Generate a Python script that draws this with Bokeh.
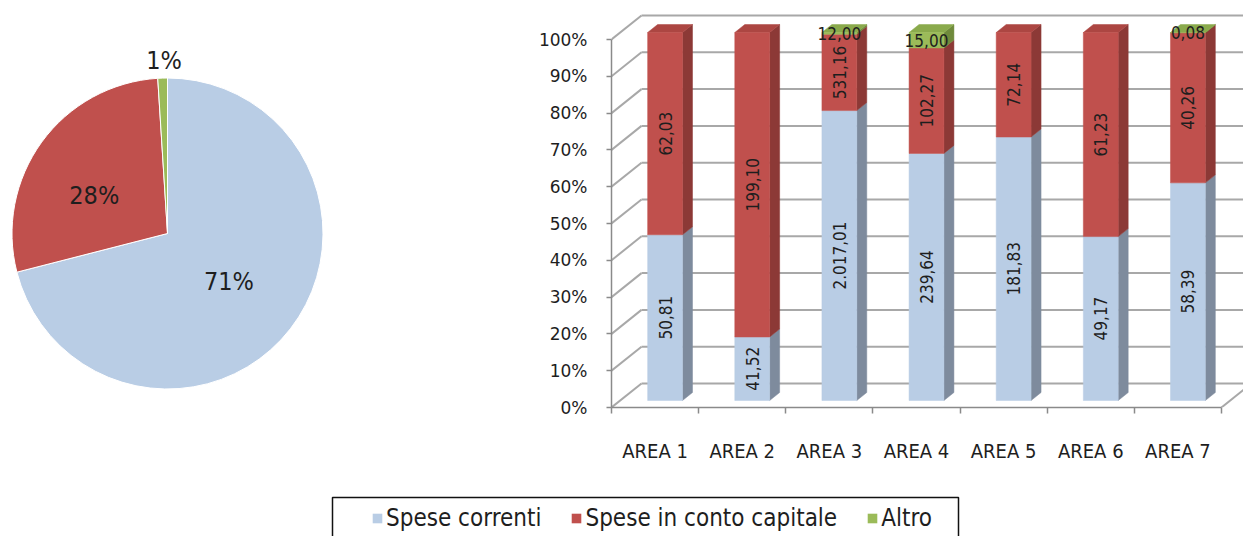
import numpy as np
from bokeh.plotting import figure
from bokeh.layouts import column, row
from bokeh.models import (ColumnDataSource, Range1d, FixedTicker, PrintfTickFormatter,
                          CustomJSTickFormatter, Legend, LegendItem, BoxAnnotation)
from bokeh.core.properties import value
from bokeh.embed import file_html
from bokeh.resources import INLINE

# ---------------- data ----------------
areas = ["AREA 1", "AREA 2", "AREA 3", "AREA 4", "AREA 5", "AREA 6", "AREA 7"]
spese_correnti = [50.81, 41.52, 2017.01, 239.64, 181.83, 49.17, 58.39]
spese_capitale = [62.03, 199.10, 531.16, 102.27, 72.14, 61.23, 40.26]
altro = [0.0, 0.0, 12.00, 15.00, 0.0, 0.0, 0.08]
series_names = ["Spese correnti", "Spese in conto capitale", "Altro"]
pie_shares = [71, 28, 1]
y_ticks = [0, 10, 20, 30, 40, 50, 60, 70, 80, 90, 100]

# ---------------- style ----------------
FONT = "DejaVu Sans Condensed"
FACE = ["#B9CDE5", "#C0504D", "#9BBB59"]
SIDE = ["#7E8B9D", "#8C3936", "#6F8A3B"]
TOP = ["#A9BDD6", "#AC4642", "#8AAA4C"]
GRID = "#A8A8A8"
AXIS = "#8A8A8A"
TEXT = "#1E1E1E"

# shared vertical frame of the top row (pixels)
TOP_BORDER, BOTTOM_BORDER, ROW_H = 10, 63, 470
FRAME_H = ROW_H - TOP_BORDER - BOTTOM_BORDER

# 3D projection of the column chart (in data units)
CAT_PX = 87.14            # pixels per category
PCT_PX = 3.68             # pixels per percent point
WALL_DX, WALL_DY = 30 / CAT_PX, 24 / PCT_PX     # back wall offset
BAR_OX, BAR_OY = 10 / CAT_PX, 7 / PCT_PX        # bar front offset from the front plane
BAR_DX, BAR_DY = 10 / CAT_PX, 8 / PCT_PX        # bar depth
BAR_W = 0.40


def it_num(v):
    s = f"{v:,.2f}"
    return s.replace(",", "#").replace(".", ",").replace("#", ".")


# ---------------- pie ----------------
R = 155.5                 # pie radius in pixels
PIE_CX, PIE_CY = 167, 233 - TOP_BORDER   # centre inside the frame
pie = figure(width=400, height=ROW_H, output_backend="svg", toolbar_location=None,
             x_range=Range1d(-PIE_CX / R, (400 - PIE_CX) / R),
             y_range=Range1d(-(FRAME_H - PIE_CY) / R, PIE_CY / R),
             x_axis_location=None, y_axis_location=None,
             min_border_left=0, min_border_right=0,
             min_border_top=TOP_BORDER, min_border_bottom=BOTTOM_BORDER)
pie.grid.visible = False
pie.outline_line_color = None

frac = np.array(pie_shares, dtype=float) / sum(pie_shares)
cum = np.concatenate([[0.0], np.cumsum(frac)])
start = np.pi / 2 - 2 * np.pi * cum[:-1]
end = np.pi / 2 - 2 * np.pi * cum[1:]
pie_src = ColumnDataSource(dict(start=start, end=end, color=FACE, x=[0.0] * 3, y=[0.0] * 3))
pie.wedge(x="x", y="y", radius=1.0, start_angle="start", end_angle="end",
          direction="clock", fill_color="color", line_color="white", line_width=1,
          source=pie_src)

mid = (start + end) / 2
lab_r = np.array([0.5, 0.55, 1.11])
lab_src = ColumnDataSource(dict(
    x=lab_r * np.cos(mid), y=lab_r * np.sin(mid),
    text=[f"{s}%" for s in pie_shares],
    dx=[0, -4, 2], dy=[0, 12, 0],          # small label nudges, in pixels
))
pie.text(x="x", y="y", text="text", x_offset="dx", y_offset="dy", source=lab_src,
         text_font=value(FONT), text_font_size="25px", text_color=TEXT,
         text_align="center", text_baseline="middle")

# ---------------- 3D stacked 100% columns ----------------
bar = figure(width=843, height=ROW_H, output_backend="svg", toolbar_location=None,
             x_range=Range1d(0, 632 / CAT_PX), y_range=Range1d(0, FRAME_H / PCT_PX),
             min_border_left=211, min_border_right=0,
             min_border_top=TOP_BORDER, min_border_bottom=BOTTOM_BORDER)
bar.xgrid.visible = False
bar.ygrid.visible = False
bar.outline_line_color = None
bar.background_fill_color = "white"

n = len(areas)
# back wall gridlines + slanted side-wall lines
gx0, gy0, gx1, gy1 = [], [], [], []
for t in y_ticks:
    gx0 += [0, WALL_DX]
    gy0 += [t, t + WALL_DY]
    gx1 += [WALL_DX, n + WALL_DX]
    gy1 += [t + WALL_DY, t + WALL_DY]
# right end of the floor
gx0.append(n); gy0.append(0); gx1.append(n + WALL_DX); gy1.append(WALL_DY)
bar.segment(x0=gx0, y0=gy0, x1=gx1, y1=gy1, line_color=GRID, line_width=2)

values = np.array([spese_correnti, spese_capitale, altro])
totals = values.sum(axis=0)
pct = values / totals * 100
cum_pct = np.vstack([np.zeros(n), np.cumsum(pct, axis=0)])

fl, fr_, fb, ft, fc = [], [], [], [], []
pxs, pys, pc = [], [], []
lx, ly, lt, la = [], [], [], []
for i in range(n):
    x0 = i + 0.5 + BAR_OX - BAR_W / 2
    x1 = x0 + BAR_W
    top_k = max(k for k in range(3) if values[k, i] > 0)
    for k in range(3):
        if values[k, i] <= 0:
            continue
        b = cum_pct[k, i] + BAR_OY
        t = cum_pct[k + 1, i] + BAR_OY
        fl.append(x0); fr_.append(x1); fb.append(b); ft.append(t); fc.append(FACE[k])
        pxs.append([x1, x1 + BAR_DX, x1 + BAR_DX, x1])
        pys.append([b, b + BAR_DY, t + BAR_DY, t])
        pc.append(SIDE[k])
        if k == top_k:
            pxs.append([x0, x1, x1 + BAR_DX, x0 + BAR_DX])
            pys.append([t, t, t + BAR_DY, t + BAR_DY])
            pc.append(TOP[k])
        lx.append((x0 + x1) / 2)
        ly.append((b + t) / 2)
        lt.append(it_num(values[k, i]))
        la.append(0.0 if k == 2 else np.pi / 2)

bar.patches(xs=pxs, ys=pys, fill_color=pc, line_color=pc, line_width=0.5)
bar.quad(left=fl, right=fr_, bottom=fb, top=ft, fill_color=fc, line_color=fc, line_width=0.5)
bar.text(x=lx, y=ly, text=lt, angle=la, text_font=value(FONT), text_font_size="17px",
         text_color=TEXT, text_align="center", text_baseline="middle")

yax = bar.yaxis[0]
yax.ticker = FixedTicker(ticks=y_ticks)
yax.formatter = PrintfTickFormatter(format="%d%%")
yax.bounds = (0, 100)
yax.axis_line_color = AXIS
yax.axis_line_width = 1.5
yax.major_tick_line_color = AXIS
yax.major_tick_line_width = 1.5
yax.major_tick_out = 5
yax.major_tick_in = 0
yax.minor_tick_line_color = None
yax.major_label_text_font = "DejaVu Sans"
yax.major_label_text_font_size = "17px"
yax.major_label_text_color = TEXT
yax.major_label_standoff = 19

xax = bar.xaxis[0]
xax.ticker = FixedTicker(ticks=[i + 0.5 for i in range(n)], minor_ticks=list(range(n + 1)))
xax.formatter = CustomJSTickFormatter(args=dict(cats=areas), code="return cats[Math.floor(tick)];")
xax.bounds = (0, n)
xax.axis_line_color = AXIS
xax.axis_line_width = 1.5
xax.major_tick_line_color = None
xax.major_tick_out = 0
xax.major_tick_in = 0
xax.minor_tick_line_color = AXIS
xax.minor_tick_line_width = 1.5
xax.minor_tick_out = 6
xax.minor_tick_in = 0
xax.major_label_text_font = FONT
xax.major_label_text_font_size = "20px"
xax.major_label_text_color = TEXT
xax.major_label_standoff = 25

# ---------------- legend strip ----------------
leg = figure(width=1243, height=66, output_backend="svg", toolbar_location=None,
             x_range=Range1d(0, 1243), y_range=Range1d(0, 66),
             x_axis_location=None, y_axis_location=None, min_border=0)
leg.grid.visible = False
leg.outline_line_color = None
# zero-size swatch renderers: they only supply the legend glyph colours
swatches = [leg.quad(left=[0], right=[0], top=[0], bottom=[0], fill_color=c, line_color=None)
            for c in FACE]
legend = Legend(items=[LegendItem(label=name, renderers=[r]) for name, r in zip(series_names, swatches)],
                orientation="horizontal", location=(366, -1), padding=5, spacing=29,
                glyph_width=12, glyph_height=12, label_standoff=3,
                label_text_font=FONT, label_text_font_size="24px", label_text_color=TEXT,
                border_line_alpha=0, background_fill_alpha=0)
leg.add_layout(legend)
leg.add_layout(BoxAnnotation(left=332, right=958, top=39, bottom=-6, fill_alpha=0,
                             line_color="#111111", line_alpha=1.0, line_width=1.5))

layout = column(row(pie, bar), leg)
open("out.html", "w").write(file_html(layout, INLINE))
